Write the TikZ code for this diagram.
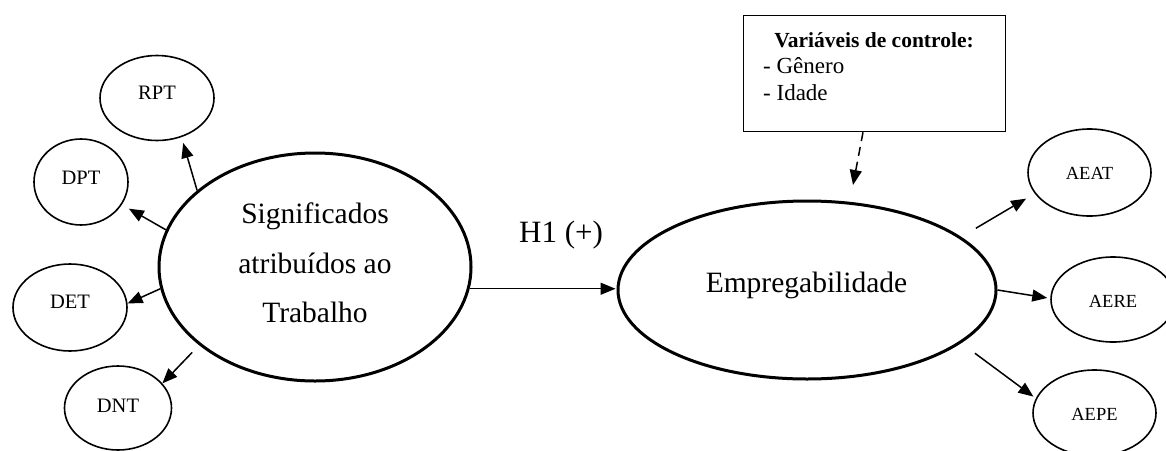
\documentclass[tikz,border=0pt]{standalone}
\usepackage{fontspec}
\setmainfont{Liberation Serif}
\usetikzlibrary{arrows.meta,shapes.geometric}
\begin{document}
\begin{tikzpicture}[x=1pt,y=-1pt,
  big/.style={ellipse,draw,line width=3pt,inner sep=0pt},
  small/.style={ellipse,draw,line width=1.6pt,inner sep=0pt},
  arr/.style={line width=1.5pt,-{Triangle[length=15pt,width=12pt]}},
  bigtxt/.style={font=\fontsize{29.5}{49.5}\selectfont,align=center,inner sep=0pt},
  lt/.style={font=\fontsize{20.5}{24}\selectfont,inner sep=0pt},
  rt/.style={font=\fontsize{18.5}{22}\selectfont,inner sep=0pt},
  boxtxt/.style={font=\fontsize{23}{26}\selectfont,inner sep=0pt}]
\useasboundingbox (0,0) rectangle (1166,450);
\clip (0,0) rectangle (1166,450);

% main constructs
\node[big,minimum width=312pt,minimum height=228pt] (sig) at (315,267) {};
\node[bigtxt] (sigtxt) at (315,263) {Significados\\atribuídos ao\\Trabalho};
\node[big,minimum width=378pt,minimum height=178pt] (emp) at (807,290) {};
\node[bigtxt,anchor=base] (emptxt) at (806.5,292) {Empregabilidade};

% left indicators
\node[small,minimum width=114pt,minimum height=85pt] (rpt) at (157,98) {};
\node[lt] (rpttxt) at (157,93) {RPT};
\node[small,minimum width=94pt,minimum height=86pt] (dpt) at (81,182) {};
\node[lt] (dpttxt) at (81,178) {DPT};
\node[small,minimum width=114pt,minimum height=87pt] (det) at (70,307.5) {};
\node[lt] (dettxt) at (70,302) {DET};
\node[small,minimum width=107pt,minimum height=84pt] (dnt) at (118,408) {};
\node[lt] (dnttxt) at (118,405.5) {DNT};

% right indicators
\node[small,minimum width=123pt,minimum height=87pt] (aeat) at (1089.5,172.5) {};
\node[rt] (aeattxt) at (1089.5,173) {AEAT};
\node[small,minimum width=124pt,minimum height=85pt] (aere) at (1113,299.5) {};
\node[rt] (aeretxt) at (1113,301.5) {AERE};
\node[small,minimum width=123pt,minimum height=86pt] (aepe) at (1094.5,413) {};
\node[rt] (aepetxt) at (1094.5,414) {AEPE};

% control box
\node[draw,line width=1.5pt,minimum width=262pt,minimum height=116pt,inner sep=0pt] (ctrl) at (874.5,73.5) {};
\node[boxtxt,font=\fontsize{21.5}{24}\selectfont\bfseries,anchor=base] (ctrlh) at (874,47) {Variáveis de controle:};
\node[boxtxt,anchor=base west] (ctrlg) at (763,73.5) {- Gênero};
\node[boxtxt,anchor=base west] (ctrli) at (763,100) {- Idade};
\coordinate (dtip) at (853,185);

% hypothesis
\node[font=\fontsize{31}{33}\selectfont,anchor=base,inner sep=0pt] (h1) at (561,242) {H1 (+)};

% connectors
\draw[arr,shorten >=6pt] (sig.147) -- (rpt.302);
\draw[arr,shorten >=8pt] (sig.166) -- (dpt.331);
\draw[arr] (sig.188) -- (det.4);
\draw[arr,shorten <=10pt] (sig.214) -- (dnt.29);
\draw[arr,shorten >=1pt] (sig.352) -- (sig.352 -| emp.west);
\draw[arr,shorten <=17pt,shorten >=10pt] (emp.19) -- (aeat.201);
\draw[arr,shorten >=3pt] (emp.0) -- (aere.179);
\draw[arr,shorten <=17pt,shorten >=3pt] (emp.341) -- (aepe.166);
\draw[arr,dash pattern=on 9pt off 6pt] ([xshift=-11.5pt]ctrl.south) -- (dtip);
\end{tikzpicture}
\end{document}
